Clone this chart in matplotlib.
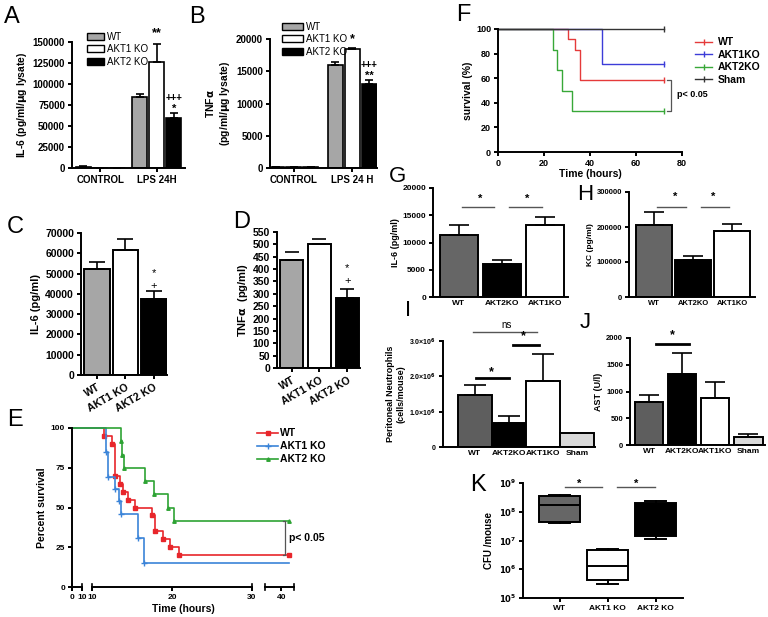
import numpy as np
import matplotlib
matplotlib.use('Agg')
import matplotlib.pyplot as plt
from matplotlib.patches import Patch
from matplotlib.lines import Line2D
from matplotlib.ticker import FuncFormatter, NullLocator

# ---- data ----
# A: IL-6 in lysate
a_groups = ['CONTROL', 'LPS 24H']
a_wt = [1500, 85000]
a_wt_err = [300, 3000]
a_akt1 = [300, 126000]
a_akt1_err = [0, 22000]
a_akt2 = [300, 59000]
a_akt2_err = [0, 6000]
# B: TNFa in lysate
b_groups = ['CONTROL', 'LPS 24 H']
b_wt = [150, 15900]
b_wt_err = [0, 600]
b_akt1 = [150, 18500]
b_akt1_err = [0, 100]
b_akt2 = [150, 13000]
b_akt2_err = [0, 700]
# C, D
cd_labels = ['WT', 'AKT1 KO', 'AKT2 KO']
c_vals = [52500, 61500, 37500]
c_err = [3000, 5500, 4000]
d_vals = [435, 500, 285]
d_err = [35, 20, 35]
# E: survival
e_wt_t = [0, 11.5, 12.5, 12.9, 13.5, 13.9, 14.5, 15.4, 17.5, 17.9, 18.9, 19.8, 20.9, 41]
e_wt_s = [100, 95, 90, 70, 65, 60, 55, 50, 45, 35, 30, 25, 20, 20]
e_akt1_t = [0, 11.8, 12.0, 12.9, 13.4, 13.6, 15.8, 16.5, 41]
e_akt1_s = [100, 84.6, 69.2, 61.5, 53.8, 46.2, 30.8, 15.4, 15.4]
e_akt2_t = [0, 13.6, 13.8, 14.0, 16.6, 17.7, 19.5, 20.2, 41]
e_akt2_s = [100, 91.7, 83.3, 75, 66.7, 58.3, 50, 41.7, 41.7]
# F: survival
f_wt_t = [0, 30.6, 33.5, 35.7, 72]
f_wt_s = [100, 91.7, 83.3, 58.3, 58.3]
f_akt1_t = [0, 45.1, 72]
f_akt1_s = [100, 71.4, 71.4]
f_akt2_t = [0, 24, 25.8, 28, 32, 72]
f_akt2_s = [100, 83.3, 66.7, 50, 33.3, 33.3]
f_sham_t = [0, 72]
f_sham_s = [100, 100]
# G, H
gh_labels = ['WT', 'AKT2KO', 'AKT1KO']
g_vals = [11400, 6000, 13300]
g_err = [1900, 700, 1300]
h_vals = [205000, 105000, 190000]
h_err = [37000, 13000, 18000]
# I, J
ij_labels = ['WT', 'AKT2KO', 'AKT1KO', 'Sham']
i_vals = [1.47e6, 0.68e6, 1.88e6, 0.40e6]
i_err = [0.28e6, 0.20e6, 0.76e6, 0]
j_vals = [800, 1320, 880, 150]
j_err = [140, 400, 300, 60]
# K: CFU boxes
k_labels = ['WT', 'AKT1 KO', 'AKT2 KO']
k_min = [4.2e7, 3.1e5, 1.1e7]
k_q1 = [4.5e7, 4.1e5, 1.4e7]
k_med = [1.65e8, 1.25e6, 1.0e8]
k_q3 = [3.5e8, 4.5e6, 2.0e8]
k_max = [3.7e8, 5.2e6, 2.4e8]

W, H = 768, 617
plt.rcParams['font.family'] = ['Liberation Sans', 'DejaVu Sans']
plt.rcParams['font.weight'] = 'bold'
plt.rcParams['axes.labelweight'] = 'bold'
plt.rcParams['axes.linewidth'] = 1.4
plt.rcParams['xtick.major.width'] = 1.4
plt.rcParams['ytick.major.width'] = 1.4
plt.rcParams['xtick.major.size'] = 3
plt.rcParams['ytick.major.size'] = 3
plt.rcParams['xtick.major.pad'] = 2
plt.rcParams['ytick.major.pad'] = 2

fig = plt.figure(figsize=(W / 100, H / 100), dpi=100)


def px_axes(x0, y0, x1, y1):
    ax = fig.add_axes([x0 / W, 1 - y1 / H, (x1 - x0) / W, (y1 - y0) / H])
    ax.spines['top'].set_visible(False)
    ax.spines['right'].set_visible(False)
    return ax


def letter(x, y, s, size=17):
    fig.text(x / W, 1 - y / H, s, fontsize=size, fontweight='normal', ha='center', va='center')


def upper_err(ax, x, v, e, cap=4, **kw):
    ax.errorbar(x, v, yerr=[np.zeros(len(e)), e], fmt='none', ecolor='black',
                elinewidth=1.2, capsize=cap, capthick=1.2, **kw)


def star(ax, x, y, s, size=9, **kw):
    ax.text(x, y, s, ha='center', va='center', fontsize=size, clip_on=False, **kw)


def sig_line(ax, x0, x1, y, lw=1.0, color='#555555'):
    ax.plot([x0, x1], [y, y], color=color, lw=lw, clip_on=False)


grp_cols = ['#a6a6a6', 'white', 'black']

# ---- A ----
ax = px_axes(72, 42, 185, 168)
pos = np.arange(2)
for k, (v, e) in enumerate([(a_wt, a_wt_err), (a_akt1, a_akt1_err), (a_akt2, a_akt2_err)]):
    xx = pos + (k - 1) * 0.3
    ax.bar(xx, v, 0.27, color=grp_cols[k], edgecolor='black', lw=1.2)
    upper_err(ax, xx, v, e, cap=3)
ax.set_xlim(-0.5, 1.5)
ax.set_ylim(0, 150000)
ax.set_yticks(np.arange(0, 150001, 25000))
ax.set_xticks(pos)
ax.set_xticklabels(a_groups)
ax.tick_params(labelsize=7)
ax.set_ylabel('IL-6 (pg/ml/$\\mathbf{\\mu}$g lysate)', fontsize=7.5, labelpad=3)
star(ax, 1.0, 160000, '**')
star(ax, 1.3, 83000, '+++', size=7)
star(ax, 1.3, 70000, '*', size=8)
ax.legend(handles=[Patch(facecolor=c, edgecolor='black', label=l)
                   for c, l in zip(grp_cols, ['WT', 'AKT1 KO', 'AKT2 KO'])],
          loc='upper left', bbox_to_anchor=(82 / W, 1 - 27 / H), bbox_transform=fig.transFigure,
          frameon=False, prop={'size': 7, 'weight': 'normal'}, handlelength=1.8,
          handleheight=0.7, labelspacing=0.25, borderpad=0, handletextpad=0.3)
letter(12, 17, 'A')

# ---- B ----
ax = px_axes(270, 39, 377, 168)
for k, (v, e) in enumerate([(b_wt, b_wt_err), (b_akt1, b_akt1_err), (b_akt2, b_akt2_err)]):
    xx = pos + (k - 1) * 0.29
    ax.bar(xx, v, 0.26, color=grp_cols[k], edgecolor='black', lw=1.2)
    upper_err(ax, xx, v, e, cap=3)
ax.set_xlim(-0.4, 1.42)
ax.set_ylim(0, 20000)
ax.set_yticks(np.arange(0, 20001, 5000))
ax.set_xticks(pos)
ax.set_xticklabels(b_groups)
ax.tick_params(labelsize=7)
ax.set_ylabel('TNF$\\mathbf{\\alpha}$\n(pg/ml/$\\mathbf{\\mu}$g lysate)', fontsize=7.5, labelpad=3)
star(ax, 1.0, 19900, '*')
star(ax, 1.29, 15900, '+++', size=7)
star(ax, 1.29, 14300, '**', size=8)
ax.legend(handles=[Patch(facecolor=c, edgecolor='black', label=l)
                   for c, l in zip(grp_cols, ['WT', 'AKT1 KO', 'AKT2 KO'])],
          loc='upper left', bbox_to_anchor=(277 / W, 1 - 17 / H), bbox_transform=fig.transFigure,
          frameon=False, prop={'size': 7, 'weight': 'normal'}, handlelength=2.2,
          handleheight=0.7, labelspacing=0.25, borderpad=0, handletextpad=0.3)
letter(197, 17, 'B')

# ---- C ----
ax = px_axes(81, 233, 167, 375)
x3 = np.arange(3)
ax.bar(x3, c_vals, 0.9, color=grp_cols, edgecolor='black', lw=1.4)
upper_err(ax, x3, c_vals, c_err, cap=6)
ax.set_xlim(-0.56, 2.46)
ax.set_ylim(0, 70000)
ax.set_yticks(np.arange(0, 70001, 10000))
ax.set_xticks(x3)
ax.set_xticklabels(cd_labels, rotation=30, ha='right', rotation_mode='anchor')
ax.tick_params(labelsize=7.5)
ax.set_ylabel('IL-6 (pg/ml)', fontsize=8, labelpad=3)
star(ax, 2, 50300, '*', size=8, fontweight='normal')
star(ax, 2, 44000, '+', size=8, fontweight='normal')
letter(15, 227, 'C')

# ---- D ----
ax = px_axes(277, 232, 360, 368)
ax.bar(x3, d_vals, 0.8, color=grp_cols, edgecolor='black', lw=1.4)
upper_err(ax, x3[:2], d_vals[:2], d_err[:2], cap=5)
ax.collections[-1].set_visible(False)
upper_err(ax, x3[2:], d_vals[2:], d_err[2:], cap=5)
ax.set_xlim(-0.52, 2.45)
ax.set_ylim(0, 550)
ax.set_yticks(np.arange(0, 551, 50))
ax.set_xticks(x3)
ax.set_xticklabels(cd_labels, rotation=30, ha='right', rotation_mode='anchor')
ax.tick_params(labelsize=7.5)
ax.set_ylabel('TNF$\\mathbf{\\alpha}$  (pg/ml)', fontsize=8, labelpad=2)
star(ax, 2, 404, '*', size=8, fontweight='normal')
star(ax, 2, 350, '+', size=8, fontweight='normal')
letter(242, 222, 'D')

# ---- E ----
e_knots_t = [0, 10, 10.01, 30, 37.9, 41.6]
e_knots_u = [0, 10, 20, 180, 193, 222]


def e_fwd(t):
    return np.interp(t, e_knots_t, e_knots_u)


def e_inv(u):
    return np.interp(u, e_knots_u, e_knots_t)


ax = px_axes(72, 428, 294, 587)
ax.set_xscale('function', functions=(e_fwd, e_inv))
e_red, e_blue, e_green = '#e8262b', '#3b84d8', '#2ea334'
ax.step(e_wt_t, e_wt_s, where='post', color=e_red, lw=1.2, marker='s', ms=2.5,
        markevery=list(range(1, len(e_wt_t))), clip_on=False, label='WT')
ax.step(e_akt1_t, e_akt1_s, where='post', color=e_blue, lw=1.2, marker='+', ms=4,
        markevery=list(range(1, len(e_akt1_t) - 1)), clip_on=False, label='AKT1 KO')
ax.step(e_akt2_t, e_akt2_s, where='post', color=e_green, lw=1.2, marker='^', ms=2.5,
        markevery=list(range(1, len(e_akt2_t))), clip_on=False, label='AKT2 KO')
ax.set_xlim(0, 41.6)
ax.set_ylim(0, 100)
ax.set_yticks([0, 25, 50, 75, 100])
ax.set_xticks([0, 10, 10.01, 20, 30, 40])
ax.set_xticklabels(['0', '10', '10', '20', '30', '40'])
ax.xaxis.set_minor_locator(NullLocator())
ax.spines['bottom'].set_visible(False)
for s0, s1 in [(0, 10), (10.01, 30), (37.9, 41.6)]:
    ax.plot([s0, s1], [0, 0], color='black', lw=1.4, clip_on=False)
    ax.plot([s0, s0], [-2, 2], color='black', lw=1.2, clip_on=False)
    ax.plot([s1, s1], [-2, 2], color='black', lw=1.2, clip_on=False)
ax.tick_params(labelsize=6)
ax.set_xlabel('Time (hours)', fontsize=7.5, labelpad=2)
ax.set_ylabel('Percent survival', fontsize=7.5, labelpad=3)
ax.plot([40.2, 40.5, 40.5, 40.2], [41.7, 41.7, 20, 20], color='#555555', lw=0.9, clip_on=False)
ax.text(41.0, 30.8, 'p< 0.05', fontsize=7.5, va='center', clip_on=False)
ax.legend(loc='upper left', bbox_to_anchor=(252 / W, 1 - 423 / H), bbox_transform=fig.transFigure,
          frameon=False, fontsize=7.5, handlelength=2.0, labelspacing=0.3, borderpad=0,
          handletextpad=0.2)
letter(15, 420, 'E')

# ---- F ----
ax = px_axes(498, 29, 682, 152)
f_cols = ['#e53a3a', '#3c3cd8', '#38a838', '#333333']
f_lab = ['WT', 'AKT1KO', 'AKT2KO', 'Sham']
for (t, s), c in zip([(f_wt_t, f_wt_s), (f_akt1_t, f_akt1_s), (f_akt2_t, f_akt2_s),
                      (f_sham_t, f_sham_s)], f_cols):
    ax.step(t, s, where='post', color=c, lw=1.0, clip_on=False, marker='|', ms=5,
            markevery=[len(t) - 1])
ax.set_xlim(0, 80)
ax.set_ylim(0, 100)
ax.set_xticks([0, 20, 40, 60, 80])
ax.set_yticks([0, 20, 40, 60, 80, 100])
ax.tick_params(labelsize=6.5)
ax.set_xlabel('Time (hours)', fontsize=7.5, labelpad=1)
ax.set_ylabel('survival (%)', fontsize=7.5, labelpad=2)
ax.plot([73.5, 75, 75, 73.5], [58.3, 58.3, 33.3, 33.3], color='#555555', lw=0.9, clip_on=False)
ax.text(78, 47, 'p< 0.05', fontsize=6.5, va='center', clip_on=False)
ax.legend(handles=[Line2D([], [], color=c, lw=1.0, marker='|', ms=5, label=l)
                   for c, l in zip(f_cols, f_lab)],
          loc='upper left', bbox_to_anchor=(690 / W, 1 - 32 / H), bbox_transform=fig.transFigure,
          frameon=False, fontsize=7.5, handlelength=1.6, labelspacing=0.25, borderpad=0,
          handletextpad=0.6)
letter(463, 15, 'F')

# ---- G ----
gh_cols = ['#666666', 'black', 'white']
ax = px_axes(433, 188, 568, 297)
ax.bar(x3, g_vals, 0.88, color=gh_cols, edgecolor='black', lw=1.4)
upper_err(ax, x3, g_vals, g_err, cap=7)
ax.set_xlim(-0.6, 2.53)
ax.set_ylim(0, 20000)
ax.set_yticks(np.arange(0, 20001, 5000))
ax.set_xticks(x3)
ax.set_xticklabels(gh_labels)
ax.tick_params(labelsize=6)
ax.tick_params(axis='x', length=0)
ax.set_ylabel('IL-6 (pg/ml)', fontsize=6.5, labelpad=2)
sig_line(ax, 0.07, 0.81, 16600)
sig_line(ax, 1.16, 1.93, 16600)
star(ax, 0.49, 18000, '*', size=8)
star(ax, 1.58, 18000, '*', size=8)
letter(397, 176, 'G', size=16)

# ---- H ----
ax = px_axes(629, 192, 755, 297)
ax.bar(x3, h_vals, 0.9, color=gh_cols, edgecolor='black', lw=1.4)
upper_err(ax, x3, h_vals, h_err, cap=7)
ax.set_xlim(-0.64, 2.59)
ax.set_ylim(0, 300000)
ax.set_yticks([0, 100000, 200000, 300000])
ax.set_xticks(x3)
ax.set_xticklabels(gh_labels)
ax.tick_params(labelsize=5.5)
ax.tick_params(axis='x', length=0)
ax.set_ylabel('KC (pg/ml)', fontsize=6, labelpad=2)
sig_line(ax, 0.08, 0.82, 257000)
sig_line(ax, 1.2, 1.92, 257000)
star(ax, 0.54, 286000, '*', size=8)
star(ax, 1.51, 286000, '*', size=8)
letter(585, 195, 'H', size=16)

# ---- I ----
ij_cols = ['#5e5e5e', 'black', 'white', '#d9d9d9']
x4 = np.arange(4)
ax = px_axes(443, 341, 595, 447)
ax.bar(x4, i_vals, 1.0, color=ij_cols, edgecolor='black', lw=1.4)
upper_err(ax, x4[:3], i_vals[:3], i_err[:3], cap=8)
ax.set_xlim(-0.94, 3.53)
ax.set_ylim(0, 3e6)
ax.set_yticks([0, 1e6, 2e6, 3e6])
ax.yaxis.set_major_formatter(FuncFormatter(
    lambda v, p: '0' if v == 0 else '%.1f\u00d710$^{\\mathbf{6}}$' % (v / 1e6)))
ax.set_xticks(x4)
ax.set_xticklabels(ij_labels)
ax.tick_params(labelsize=5)
ax.tick_params(axis='x', labelsize=6, length=0)
ax.set_ylabel('Peritoneal Neutrophils\n(cells/mouse)', fontsize=6.5, labelpad=3)
sig_line(ax, 0.03, 1.0, 1.95e6, lw=2, color='black')
sig_line(ax, 1.12, 1.88, 2.9e6, lw=2, color='black')
sig_line(ax, -0.06, 1.82, 3.25e6)
star(ax, 0.47, 2.12e6, '*', size=9)
star(ax, 1.41, 3.14e6, '*', size=9)
star(ax, 0.94, 3.45e6, 'ns', size=7, fontweight='normal')
letter(408, 310, 'I', size=16)

# ---- J ----
ax = px_axes(630, 338, 765, 445)
ax.bar(x4, j_vals, 0.85, color=ij_cols, edgecolor='black', lw=1.4)
upper_err(ax, x4, j_vals, j_err, cap=7)
ax.set_xlim(-0.58, 3.5)
ax.set_ylim(0, 2000)
ax.set_yticks([0, 500, 1000, 1500, 2000])
ax.set_xticks(x4)
ax.set_xticklabels(ij_labels)
ax.tick_params(labelsize=5.5)
ax.tick_params(axis='x', labelsize=6, length=0)
ax.set_ylabel('AST (U/l)', fontsize=6.5, labelpad=2)
sig_line(ax, 0.21, 1.21, 1884, lw=2, color='black')
star(ax, 0.7, 2060, '*', size=9)
letter(585, 322, 'J', size=16)

# ---- K ----
ax = px_axes(523, 483, 683, 598)
k_stats = [dict(whislo=a, q1=b, med=c, q3=d, whishi=e, label=l)
           for a, b, c, d, e, l in zip(k_min, k_q1, k_med, k_q3, k_max, k_labels)]
bp = ax.bxp(k_stats, positions=x3, widths=0.85, patch_artist=True, showfliers=False,
            capwidths=0.45,
            boxprops=dict(lw=1.4, edgecolor='black'),
            medianprops=dict(color='black', lw=1.4),
            whiskerprops=dict(lw=1.4), capprops=dict(lw=1.4))
for patch, c in zip(bp['boxes'], ['#666666', 'white', 'black']):
    patch.set_facecolor(c)
ax.set_yscale('log')
ax.set_ylim(1e5, 1e9)
ax.set_xlim(-0.76, 2.57)
ax.yaxis.set_minor_locator(NullLocator())
ax.set_yticks([1e5, 1e6, 1e7, 1e8, 1e9])
ax.yaxis.set_major_formatter(FuncFormatter(lambda v, p: '$\\mathbf{10^{%d}}$' % round(np.log10(v))))
ax.tick_params(labelsize=6)
ax.set_ylabel('CFU /mouse', fontsize=7, labelpad=3)
sig_line(ax, 0.11, 0.89, 7.3e8)
sig_line(ax, 1.2, 1.99, 7.3e8)
star(ax, 0.41, 9.3e8, '*', size=8)
star(ax, 1.59, 9.3e8, '*', size=8)
letter(478, 485, 'K')

fig.savefig('out.png', dpi=100)
